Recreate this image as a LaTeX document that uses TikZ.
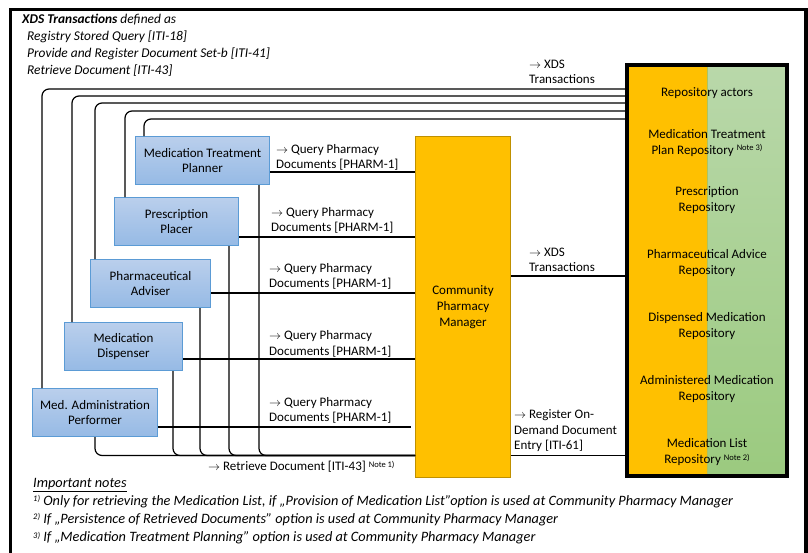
\documentclass[tikz,border=0pt]{standalone}
\usepackage{fontspec}
\setmainfont{Carlito}
\definecolor{actortop}{RGB}{186,207,236}
\definecolor{actorbot}{RGB}{150,186,229}
\definecolor{actorline}{RGB}{91,155,213}
\definecolor{amber}{RGB}{255,192,0}
\definecolor{amberline}{RGB}{191,144,0}
\definecolor{greentop}{RGB}{185,216,170}
\definecolor{greenbot}{RGB}{155,202,127}
\definecolor{splitline}{RGB}{170,196,100}
\newcommand{\notemark}[1]{\raisebox{3.5pt}{\fontsize{8.5}{9}\selectfont #1}}
\begin{document}
\begin{tikzpicture}[x=1pt,y=-1pt,
  actor/.style={draw=actorline, line width=1pt, top color=actortop, bottom color=actorbot,
    minimum height=48pt, inner sep=0pt, align=center, font=\fontsize{13}{15.5}\selectfont},
  manager/.style={draw=amberline, line width=1pt, fill=amber, inner sep=0pt,
    align=center, font=\fontsize{13}{16}\selectfont},
  repotext/.style={inner sep=0pt, align=center, font=\fontsize{13}{16}\selectfont},
  lbl/.style={inner sep=0pt, anchor=west, align=left, font=\fontsize{13}{15.5}\selectfont},
  conn/.style={line width=1.2pt, draw=black},
  bundle/.style={conn, rounded corners=7pt},
]
\useasboundingbox (0,0) rectangle (808,552);
\clip (0,0) rectangle (808,552);

% outer frame
\draw[line width=3.5pt] (10.5,9.5) rectangle (806,570);

% definition of the XDS transactions
\node[inner sep=0pt, anchor=west, align=left, font=\fontsize{13.4}{17.2}\selectfont\itshape]
  (xdsdef) at (22,45)
  {\textbf{XDS Transactions} defined as\\
   \hspace*{5pt}Registry Stored Query [ITI-18]\\
   \hspace*{5pt}Provide and Register Document Set-b [ITI-41]\\
   \hspace*{5pt}Retrieve Document [ITI-43]};

% repository actors
\node[draw, line width=4pt, minimum width=160pt, minimum height=411pt, inner sep=0pt,
  path picture={
    \fill[amber] (path picture bounding box.south west) rectangle (path picture bounding box.north);
    \shade[top color=greentop, bottom color=greenbot] (path picture bounding box.north) rectangle (path picture bounding box.south east);
    \draw[splitline, line width=0.8pt] (path picture bounding box.north) -- (path picture bounding box.south);
  }] (repo) at (707,270.5) {};

\node[repotext] (rA) at (707,93.5) {Repository actors};
\node[repotext] (rB) at (707,143) {Medication Treatment\\Plan Repository \notemark{Note 3)}};
\node[repotext] (rC) at (707,200) {Prescription\\Repository};
\node[repotext] (rD) at (707,263) {Pharmaceutical Advice\\Repository};
\node[repotext] (rE) at (707,326) {Dispensed Medication\\Repository};
\node[repotext] (rF) at (707,389.5) {Administered Medication\\Repository};
\node[repotext] (rG) at (707,452.5) {Medication List\\Repository \notemark{Note 2)}};

% community pharmacy manager
\node[manager, minimum width=95pt, minimum height=341pt] (cpm) at (463,307)
  {Community\\Pharmacy\\Manager};

% consumer actors
\node[actor, minimum width=134pt] (mtp) at (202.5,160.5) {Medication Treatment\\Planner};
\node[actor, minimum width=124pt] (pp)  at (176.5,221.5) {Prescription\\Placer};
\node[actor, minimum width=120pt] (pa)  at (150.5,283.5) {Pharmaceutical\\Adviser};
\node[actor, minimum width=118pt] (md)  at (123.5,346.5) {Medication\\Dispenser};
\node[actor, minimum width=125pt] (map) at (95,412.5)    {Med. Administration\\Performer};

% XDS transactions from the consumers to the repositories
\draw[bundle] ([xshift=10pt]map.north west) |- (repo.west |- 0,89);
\draw[bundle] ([xshift=8pt]md.north west)   |- (repo.west |- 0,96);
\draw[bundle] ([xshift=5pt]pa.north west)   |- (repo.west |- 0,103);
\draw[bundle] ([xshift=11pt]pp.north west)  |- (repo.west |- 0,111);
\draw[bundle] ([xshift=9pt]mtp.north west)  |- (repo.west |- 0,119);
\node[lbl] (xdstop) at (529,72) {$\rightarrow$ XDS\\Transactions};

% query pharmacy documents
\draw[conn] (mtp.east |- 0,172) -- (cpm.west |- 0,172);
\draw[conn] (pp.east |- 0,237)  -- (cpm.west |- 0,237);
\draw[conn] (pa.east |- 0,293)  -- (cpm.west |- 0,293);
\draw[conn] (md.east |- 0,359)  -- (cpm.west |- 0,359);
\draw[conn] (map.east |- 0,427) -- ([xshift=-4pt]cpm.west |- 0,427);
\node[lbl] (q1) at (276,157.5) {$\rightarrow$ Query Pharmacy\\Documents [PHARM-1]};
\node[lbl] (q2) at (271,220.5) {$\rightarrow$ Query Pharmacy\\Documents [PHARM-1]};
\node[lbl] (q3) at (269,276.5) {$\rightarrow$ Query Pharmacy\\Documents [PHARM-1]};
\node[lbl] (q4) at (269,344) {$\rightarrow$ Query Pharmacy\\Documents [PHARM-1]};
\node[lbl] (q5) at (269,410.5) {$\rightarrow$ Query Pharmacy\\Documents [PHARM-1]};

% retrieve document
\draw[bundle] (map.south) |- (cpm.west |- 0,455.5);
\draw[bundle] ([xshift=-10pt]md.south east)  |- (cpm.west |- 0,455.5);
\draw[bundle] ([xshift=-11pt]pa.south east)  |- (cpm.west |- 0,455.5);
\draw[bundle] ([xshift=-10pt]pp.south east)  |- (cpm.west |- 0,455.5);
\draw[bundle] ([xshift=-11pt]mtp.south east) |- (cpm.west |- 0,455.5);
\node[lbl] (retr) at (208,467) {$\rightarrow$ Retrieve Document [ITI-43] \notemark{Note 1)}};

% manager to repositories
\draw[conn] (cpm.east |- 0,276) -- (repo.west |- 0,276);
\node[lbl] (xdsmid) at (529,260) {$\rightarrow$ XDS\\Transactions};
\draw[conn] (cpm.east |- 0,455.5) -- (repo.west |- 0,455.5);
\node[lbl] (reg) at (514,431) {$\rightarrow$ Register On-\\Demand Document\\Entry [ITI-61]};

% notes
\node[inner sep=0pt, anchor=west, align=left, font=\fontsize{14.3}{18.2}\selectfont\itshape]
  (notes) at (33,511)
  {\underline{Important notes}\\
   \notemark{1)} Only for retrieving the Medication List, if „Provision of Medication List”option is used at Community Pharmacy Manager\\
   \notemark{2)} If „Persistence of Retrieved Documents” option is used at Community Pharmacy Manager\\
   \notemark{3)} If „Medication Treatment Planning” option is used at Community Pharmacy Manager};
\end{tikzpicture}
\end{document}
